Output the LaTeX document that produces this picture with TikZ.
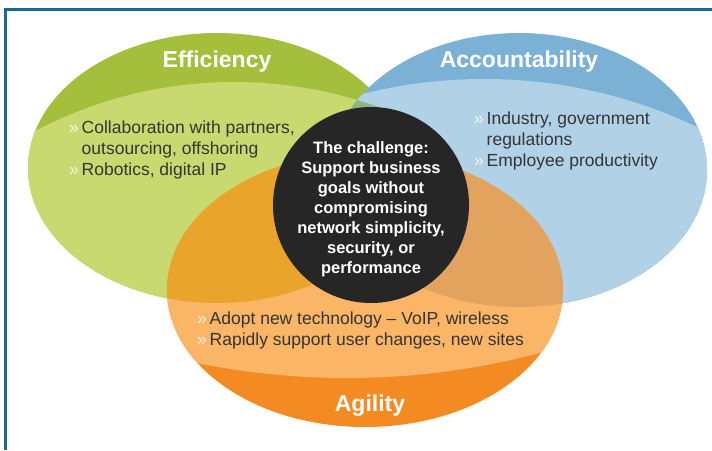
\documentclass[tikz,border=0pt]{standalone}
\usepackage{fontspec}
\setmainfont{Liberation Sans}
\usepackage{tikz}

\definecolor{frame}{HTML}{1B6894}
\definecolor{effcap}{HTML}{A4BF3B}
\definecolor{efflight}{HTML}{C8D96F}
\definecolor{acccap}{HTML}{7AB1D5}
\definecolor{acclight}{HTML}{B0D1E6}
\definecolor{effacc}{HTML}{8DB580}
\definecolor{agicap}{HTML}{F48A22}
\definecolor{agilight}{HTML}{FAB567}
\definecolor{agieff}{HTML}{E8A42B}
\definecolor{agiacc}{HTML}{E2A35E}
\definecolor{challenge}{HTML}{262626}
\definecolor{itemtext}{HTML}{353535}
\definecolor{bulletc}{HTML}{F6F6E8}

\tikzset{
  title/.style={anchor=base, inner sep=0pt, text=white, font=\bfseries\fontsize{23}{26}\selectfont},
  itemlist/.style={anchor=north west, inner sep=0pt, align=left, text=itemtext, font=\fontsize{17.5}{21.3}\selectfont},
  centretext/.style={anchor=north, inner sep=0pt, align=center, text=white, font=\bfseries\fontsize{16.5}{20}\selectfont}
}

\newcommand{\itm}{\makebox[12.5pt][l]{\textcolor{bulletc}{»}}}
\newcommand{\cnt}{\hspace*{12.5pt}}
\newcommand{\vennset}[7]{%
  \fill [#4] (#1) ellipse [x radius=#2, y radius=#3];
  \begin{scope}
    \clip (#1) ellipse [x radius=#2, y radius=#3];
    \fill [#7] (#5) circle [radius=#6];
  \end{scope}}

\begin{document}
\begin{tikzpicture}[x=1pt, y=-1pt]

\useasboundingbox (0,0) rectangle (712,450);
\fill [white] (0,0) rectangle (712,450);

\draw [frame, line width=2.8pt] (5.5,450) -- (5.5,9.8) -- (712,9.8);

\vennset {217,168}{189}{135}{effcap}{234,509}{427}{efflight};
\vennset {519,170}{188}{137}{acccap}{484,574}{495}{acclight};

\begin{scope}
  \clip (217,168) ellipse [x radius=189, y radius=135];
  \clip (234,509) circle [radius=427];
  \clip (519,170) ellipse [x radius=188, y radius=137];
  \clip (484,574) circle [radius=495];
  \fill [effacc] (0,0) rectangle (712,450);
\end{scope}

\vennset {365,290}{198}{137}{agicap}{347,-371}{749}{agilight};

\begin{scope}
  \clip (365,290) ellipse [x radius=198, y radius=137];
  \clip (217,168) ellipse [x radius=189, y radius=135];
  \fill [agieff] (0,0) rectangle (712,450);
\end{scope}
\begin{scope}
  \clip (365,290) ellipse [x radius=198, y radius=137];
  \clip (519,170) ellipse [x radius=188, y radius=137];
  \fill [agiacc] (0,0) rectangle (712,450);
\end{scope}

\fill [challenge] (371,205) circle [radius=98];

\node at (217,67.7) (efficiency) [title] {Efficiency};
\node at (519,67.7) (accountability) [title] {Accountability};
\node at (370,411) (agility) [title] {Agility};

\node at (69,120.5) (effitems) [itemlist] {\itm Collaboration with partners,\\ \cnt outsourcing, offshoring\\ \itm Robotics, digital IP};
\node at (474,111.5) (accitems) [itemlist] {\itm Industry, government\\ \cnt regulations\\ \itm Employee productivity};
\node at (197,311.5) (agiitems) [itemlist] {\itm Adopt new technology -- VoIP, wireless\\ \itm Rapidly support user changes, new sites};

\node at (371,141.5) (challengetext) [centretext] {The challenge:\\ Support business\\ goals without\\ compromising\\ network simplicity,\\ security, or\\ performance};

\end{tikzpicture}
\end{document}
